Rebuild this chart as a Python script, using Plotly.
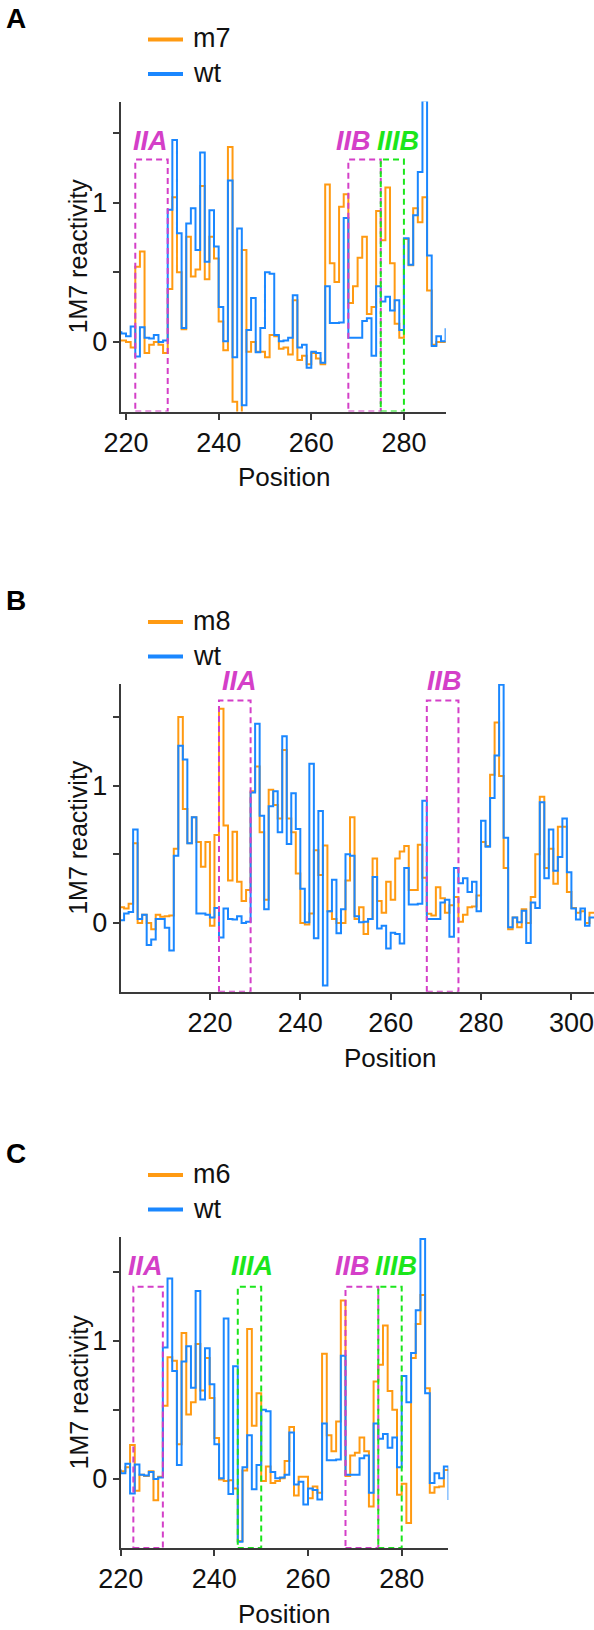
import plotly.graph_objects as go

W, H = 594, 1630
FONT = "Arial, 'Liberation Sans', sans-serif"
ORANGE = "#FF9A12"
BLUE = "#1A87FF"
MAGENTA = "#D43FC8"
GREEN = "#1BE61B"
AXC = "#3a3a3a"

# ---------------- data (1M7 reactivity per nucleotide) ----------------
wt_pos = list(range(200, 305))
wt = [0.02, 0.07, 0.08, 0.68, 0.03, 0.06, -0.16, -0.12, 0.03, 0.03,
      -0.035, -0.2, 0.49, 1.29, 1.19, 0.58, 0.77, 0.07, 0.07, 0.06,
      0.04, 0.11, -0.105, 0.105, 0.03, 0.025, 0.05, 0.0, 0.01, 0.95,
      1.45, 0.78, 0.10, 0.85, 0.96, 0.66, 1.36, 0.575, 0.945, 0.685,
      0.25, 0.005, 1.16, -0.11, 0.815, -0.455, 0.085, 0.315, -0.075, 0.10,
      0.50, 0.49, 0.05, 0.005, 0.01, 0.03, 0.335, -0.04, -0.02, -0.185,
      -0.07, -0.08, -0.15, 0.40, 0.135, 0.135, 0.14, 0.89, 0.03, 0.03,
      0.03, 0.15, 0.17, -0.10, 0.40, 0.29, 0.325, 0.225, 0.30, 0.085,
      0.745, 0.555, 0.91, 1.22, 1.735, 0.62, -0.03, 0.04, 0.005, 0.09,
      -0.146, 0.15, 0.11, 0.88, 0.325, 0.68, 0.38, 0.48, 0.76, 0.37,
      0.105, 0.026, 0.105, -0.02, 0.04]

m7_pos = list(range(218, 290))
m7 = [0.01, 0.01, 0.0, -0.04, 0.54, 0.65, -0.08, -0.02, 0.0, -0.02,
      -0.08, 0.38, 1.04, 0.50, 0.09, 0.755, 0.47, 0.52, 1.12, 0.45,
      0.755, 0.60, 0.146, -0.06, 1.40, -0.43, -0.6, 0.66, -0.07, 0.0,
      -0.07, -0.07, -0.11, 0.05, 0.04, -0.05, -0.04, -0.09, 0.30, -0.13,
      -0.10, -0.16, -0.08, -0.12, -0.16, 1.13, 0.565, 0.43, 0.97, 1.06,
      0.28, 0.40, 0.605, 0.755, 0.20, 0.25, 0.94, 0.73, 1.11, 0.565,
      0.13, 0.03, 0.74, 0.55, 0.96, 0.86, 1.04, 0.37, -0.02, 0.0,
      0.0, 0.0]

m8_pos = list(range(200, 305))
m8 = [0.115, 0.105, 0.14, 0.58, 0.0, 0.06, 0.0, -0.045, 0.06, 0.045,
      0.05, 0.055, 0.54, 1.50, 0.83, 0.58, 0.77, 0.59, 0.41, 0.59,
      -0.02, 0.64, 1.56, 0.71, 0.31, 0.665, 0.30, 0.16, 0.24, 0.96,
      1.14, 0.66, 0.17, 0.97, 0.86, 0.76, 1.26, 0.76, 0.66, 0.36,
      0.0, -0.01, 0.07, 0.53, 0.35, 0.565, 0.085, 0.03, 0.0, 0.0,
      0.31, 0.77, 0.03, 0.115, -0.08, 0.03, 0.47, 0.16, 0.075, 0.30,
      0.17, 0.47, 0.52, 0.56, 0.24, 0.24, 0.57, 0.33, 0.067, 0.055,
      0.26, 0.18, 0.074, 0.13, 0.19, 0.01, 0.06, 0.115, 0.12, 0.2,
      0.59, 0.56, 1.08, 1.46, 1.07, 0.40, -0.045, 0.04, -0.03, 0.1,
      0.0, 0.19, 0.5, 0.92, 0.40, 0.54, 0.285, 0.70, 0.70, 0.225,
      0.11, 0.074, 0.086, 0.0, 0.074]

m6_pos = list(range(219, 290))
m6 = [0.055, 0.055, 0.085, 0.245, -0.085, 0.03, 0.02, 0.055, -0.155, 0.015,
      0.53, 0.88, 0.855, 0.25, 1.055, 0.465, 0.555, 0.975, 0.64, 0.875,
      0.585, 0.295, -0.005, -0.015, -0.01, -0.07, -0.45, 0.06, 1.085, 0.385,
      0.62, -0.015, 0.09, -0.03, -0.015, 0.005, 0.13, 0.375, -0.12, 0.015,
      0.015, -0.14, -0.055, -0.10, 0.905, 0.315, 0.20, 0.415, 1.29, 0.02,
      0.17, 0.19, 0.30, 0.20, -0.20, 0.705, 0.825, 1.11, 0.635, 0.50,
      -0.115, -0.035, -0.32, 0.875, 1.12, 1.33, 0.655, -0.10, -0.06, -0.055,
      0.065]

# structural regions: (label, start, end, colour key)
regions_A = [("IIA", 222, 229, "II"), ("IIB", 268, 275, "II"), ("IIIB", 275, 280, "III")]
regions_B = [("IIA", 222, 229, "II"), ("IIB", 268, 275, "II")]
regions_C = [("IIA", 222.7, 229, "II"), ("IIIA", 245, 250, "III"),
             ("IIB", 268, 275, "II"), ("IIIB", 275, 280, "III")]
label_x_A = [225.2, 269.2, 278.7]
label_x_B = [226.5, 272.0]
label_x_C = [225.4, 248.1, 269.6, 278.8]

x_ticks_A = [220, 240, 260, 280]
x_ticks_B = [220, 240, 260, 280, 300]
x_ticks_C = [220, 240, 260, 280]

# ---------------- layout geometry (pixels) ----------------
panels = [
    dict(letter="A", mut_name="m7", mut_pos=m7_pos, mut=m7, regions=regions_A, label_x=label_x_A,
         xticks=x_ticks_A, left=120.7, right=445.7, top=101.5, bottom=411.5,
         xrange=[218.85, 289.02], yrange=[-0.5, 1.727], box_top=1.31, label_y=1.445, pos_title_x=284),
    dict(letter="B", mut_name="m8", mut_pos=m8_pos, mut=m8, regions=regions_B, label_x=label_x_B,
         xticks=x_ticks_B, left=120.7, right=594, top=684.0, bottom=991.7,
         xrange=[200.25, 305.0], yrange=[-0.5, 1.74], box_top=1.62, label_y=1.76, pos_title_x=391),
    dict(letter="C", mut_name="m6", mut_pos=m6_pos, mut=m6, regions=regions_C, label_x=label_x_C,
         xticks=x_ticks_C, left=120.7, right=448.3, top=1237.0, bottom=1548.0,
         xrange=[220.0, 289.95], yrange=[-0.5, 1.75], box_top=1.39, label_y=1.537, pos_title_x=284),
]


def px(x):
    return x / W


def py(y):
    return 1 - y / H


def steps(pos, vals):
    return pos + [pos[-1] + 1], vals + [vals[-1]]


fig = go.Figure()
shapes = []
annotations = []
layout_axes = {}

for i, p in enumerate(panels):
    n = "" if i == 0 else str(i + 1)
    xa, ya = "x" + n, "y" + n
    for name, pos, vals, col in [(p["mut_name"], p["mut_pos"], p["mut"], ORANGE),
                                 ("wt", wt_pos, wt, BLUE)]:
        sx, sy = steps(pos, vals)
        fig.add_trace(go.Scatter(x=sx, y=sy, mode="lines", line_shape="hv",
                                 line=dict(color=col, width=2), name=name,
                                 showlegend=False, xaxis=xa, yaxis=ya))
    layout_axes["xaxis" + n] = dict(
        domain=[px(p["left"]), px(p["right"])], range=p["xrange"], anchor=ya,
        automargin=False, ticklabeloverflow="allow",
        showline=True, linecolor=AXC, linewidth=2, ticks="outside", ticklen=6,
        tickwidth=2, tickcolor=AXC, tickvals=p["xticks"], showgrid=False, zeroline=False,
        tickfont=dict(family=FONT, size=27, color="#111"))
    layout_axes["yaxis" + n] = dict(
        domain=[py(p["bottom"]), py(p["top"])], range=p["yrange"], anchor=xa,
        automargin=False, ticklabeloverflow="allow",
        showline=True, linecolor=AXC, linewidth=2, ticks="outside", ticklen=6,
        tickwidth=2, tickcolor=AXC, tickvals=[0, 0.5, 1, 1.5], ticktext=["0", "", "1", ""],
        showgrid=False, zeroline=False, tickfont=dict(family=FONT, size=27, color="#111"))

    y0, y1 = p["yrange"]
    label_py = p["bottom"] - (p["label_y"] - y0) / (y1 - y0) * (p["bottom"] - p["top"])

    # region boxes and labels
    for (lab, s, e, kind), lx in zip(p["regions"], p["label_x"]):
        col = MAGENTA if kind == "II" else GREEN
        shapes.append(dict(type="rect", xref=xa, yref=ya, x0=s, x1=e, y0=y0,
                           y1=p["box_top"], line=dict(color=col, width=2, dash="6px,4px"),
                           fillcolor="rgba(0,0,0,0)", layer="above"))
        annotations.append(dict(xref=xa, yref="paper", x=lx, y=py(label_py),
                                text="<b><i>%s</i></b>" % lab,
                                showarrow=False, xanchor="center", yanchor="middle",
                                font=dict(family=FONT, size=27, color=col)))

    # panel letter
    annotations.append(dict(xref="paper", yref="paper", x=px(4), y=py(p["top"] - 83.5),
                            text="<b>%s</b>" % p["letter"], showarrow=False, xanchor="left",
                            yanchor="middle", font=dict(family=FONT, size=28, color="black")))
    # legend
    for name, col, off in [(p["mut_name"], ORANGE, 62.0), ("wt", BLUE, 27.5)]:
        yy = p["top"] - off
        shapes.append(dict(type="line", xref="paper", yref="paper", x0=px(148), x1=px(183),
                           y0=py(yy), y1=py(yy), line=dict(color=col, width=4)))
        annotations.append(dict(xref="paper", yref="paper", x=px(191), y=py(yy - 1),
                                text=name, showarrow=False, xanchor="left", yanchor="middle",
                                font=dict(family=FONT, size=27, color="#111")))
    # axis titles
    annotations.append(dict(xref="paper", yref="paper", x=px(p["pos_title_x"]), y=py(p["bottom"] + 66),
                            text="Position", showarrow=False, xanchor="center", yanchor="middle",
                            font=dict(family=FONT, size=26, color="#111")))
    annotations.append(dict(xref="paper", yref="paper", x=px(78), y=py((p["top"] + p["bottom"]) / 2),
                            text="1M7 reactivity", showarrow=False, textangle=-90,
                            xanchor="center", yanchor="middle",
                            font=dict(family=FONT, size=25, color="#111")))

fig.update_layout(template="none", width=W, height=H, margin=dict(l=0, r=0, t=0, b=0, pad=0),
                  autosize=False, paper_bgcolor="white", plot_bgcolor="white",
                  shapes=shapes, annotations=annotations, showlegend=False, **layout_axes)

fig.write_html("out.html", config={"displayModeBar": False, "staticPlot": True},
               post_script="document.body.style.margin='0';document.body.style.overflow='hidden';")
